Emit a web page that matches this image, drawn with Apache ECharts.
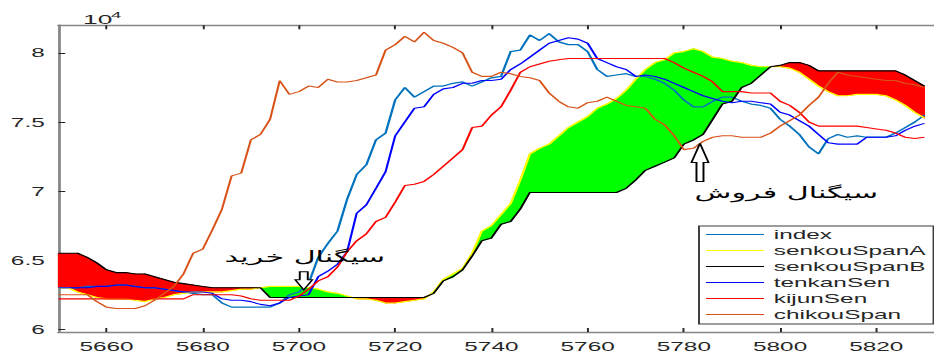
<!DOCTYPE html>
<html lang="fa">
<head>
<meta charset="utf-8">
<title>Ichimoku</title>
<script src="https://cdn.jsdelivr.net/npm/echarts@6.0.0/dist/echarts.min.js"></script>
<style>
  html, body { margin: 0; padding: 0; background: #fff; overflow: hidden; }
  #chart { height: 353px; transform-origin: 0 0; }
</style>
</head>
<body>
<div id="chart"></div>
<script>
// Sessions on the x axis
const periods = [
  5650, 5652, 5654, 5656, 5658, 5660, 5662, 5664, 5666, 5668,
  5670, 5672, 5674, 5676, 5678, 5680, 5682, 5684, 5686, 5688,
  5690, 5692, 5694, 5696, 5698, 5700, 5702, 5704, 5706, 5708,
  5710, 5712, 5714, 5716, 5718, 5720, 5722, 5724, 5726, 5728,
  5730, 5732, 5734, 5736, 5738, 5740, 5742, 5744, 5746, 5748,
  5750, 5752, 5754, 5756, 5758, 5760, 5762, 5764, 5766, 5768,
  5770, 5772, 5774, 5776, 5778, 5780, 5782, 5784, 5786, 5788,
  5790, 5792, 5794, 5796, 5798, 5800, 5802, 5804, 5806, 5808,
  5810, 5812, 5814, 5816, 5818, 5820, 5822, 5824, 5826, 5828,
  5830
];

// All values below are in units of 10^4
const index = [
  6.30, 6.30, 6.30, 6.31, 6.31, 6.31, 6.32, 6.32, 6.31, 6.30,
  6.30, 6.29, 6.28, 6.27, 6.26, 6.25, 6.25, 6.19, 6.16, 6.16,
  6.16, 6.16, 6.16, 6.19, 6.25, 6.27, 6.33, 6.52, 6.62, 6.71,
  6.94, 7.12, 7.19, 7.37, 7.42, 7.66, 7.75, 7.68, 7.72, 7.76,
  7.76, 7.78, 7.79, 7.76, 7.79, 7.82, 7.83, 8.01, 8.02, 8.13,
  8.09, 8.14, 8.08, 8.06, 8.06, 8.01, 7.88, 7.83, 7.84, 7.85,
  7.83, 7.83, 7.81, 7.78, 7.73, 7.66, 7.61, 7.61, 7.65, 7.68,
  7.68, 7.65, 7.63, 7.62, 7.60, 7.52, 7.47, 7.41, 7.32, 7.27,
  7.38, 7.41, 7.39, 7.40, 7.39, 7.39, 7.39, 7.42, 7.46, 7.50,
  7.55
];

const senkouSpanA = [
  6.30, 6.30, 6.27, 6.25, 6.23, 6.22, 6.22, 6.22, 6.21, 6.20,
  6.22, 6.23, 6.25, 6.26, 6.27, 6.27, 6.27, 6.27, 6.28, 6.29,
  6.29, 6.30, 6.31, 6.31, 6.31, 6.31, 6.30, 6.29, 6.27, 6.26,
  6.24, 6.22, 6.22, 6.21, 6.19, 6.19, 6.20, 6.21, 6.22, 6.27,
  6.36, 6.40, 6.44, 6.55, 6.71, 6.75, 6.83, 6.91, 7.08, 7.27,
  7.31, 7.34, 7.40, 7.46, 7.50, 7.54, 7.60, 7.63, 7.67, 7.73,
  7.81, 7.88, 7.93, 7.95, 8.00, 8.01, 8.03, 8.01, 7.97, 7.96,
  7.94, 7.93, 7.91, 7.90, 7.90, 7.90, 7.89, 7.86, 7.81, 7.76,
  7.72, 7.69, 7.69, 7.70, 7.70, 7.70, 7.69, 7.66, 7.62, 7.57,
  7.53
];

const senkouSpanB = [
  6.55, 6.55, 6.55, 6.52, 6.48, 6.43, 6.41, 6.41, 6.40, 6.40,
  6.38, 6.36, 6.34, 6.33, 6.32, 6.31, 6.30, 6.30, 6.30, 6.30,
  6.30, 6.30, 6.23, 6.23, 6.23, 6.23, 6.23, 6.23, 6.23, 6.23,
  6.23, 6.23, 6.23, 6.23, 6.23, 6.23, 6.23, 6.23, 6.23, 6.26,
  6.35, 6.38, 6.43, 6.53, 6.64, 6.66, 6.76, 6.78, 6.87, 6.99,
  6.99, 6.99, 6.99, 6.99, 6.99, 6.99, 6.99, 6.99, 6.99, 7.02,
  7.08, 7.15, 7.18, 7.21, 7.24, 7.34, 7.37, 7.41, 7.52, 7.63,
  7.65, 7.75, 7.78, 7.84, 7.90, 7.91, 7.93, 7.93, 7.91, 7.87,
  7.87, 7.87, 7.87, 7.87, 7.87, 7.87, 7.87, 7.87, 7.84, 7.80,
  7.76
];

const tenkanSen = [
  6.30, 6.30, 6.30, 6.30, 6.31, 6.31, 6.32, 6.32, 6.31, 6.30,
  6.30, 6.29, 6.28, 6.27, 6.27, 6.27, 6.26, 6.22, 6.21, 6.21,
  6.20, 6.18, 6.17, 6.19, 6.23, 6.24, 6.25, 6.38, 6.42, 6.47,
  6.56, 6.84, 6.90, 7.02, 7.14, 7.40, 7.50, 7.60, 7.61, 7.70,
  7.74, 7.75, 7.78, 7.78, 7.80, 7.80, 7.81, 7.88, 7.92, 7.97,
  8.02, 8.07, 8.09, 8.11, 8.10, 8.07, 7.96, 7.93, 7.90, 7.88,
  7.83, 7.84, 7.83, 7.81, 7.78, 7.75, 7.72, 7.69, 7.67, 7.65,
  7.64, 7.65, 7.65, 7.64, 7.63, 7.57, 7.55, 7.51, 7.47, 7.41,
  7.35, 7.34, 7.34, 7.34, 7.39, 7.39, 7.39, 7.40, 7.44, 7.47,
  7.49
];

const kijunSen = [
  6.22, 6.22, 6.22, 6.22, 6.22, 6.22, 6.22, 6.22, 6.22, 6.22,
  6.22, 6.22, 6.22, 6.22, 6.25, 6.25, 6.25, 6.25, 6.25, 6.24,
  6.22, 6.21, 6.21, 6.21, 6.21, 6.24, 6.29, 6.35, 6.38, 6.45,
  6.56, 6.64, 6.69, 6.78, 6.81, 6.92, 7.04, 7.05, 7.07, 7.12,
  7.18, 7.24, 7.30, 7.46, 7.47, 7.55, 7.61, 7.73, 7.86, 7.90,
  7.92, 7.94, 7.95, 7.96, 7.96, 7.96, 7.96, 7.96, 7.96, 7.96,
  7.96, 7.96, 7.96, 7.96, 7.93, 7.89, 7.86, 7.83, 7.79, 7.72,
  7.72, 7.72, 7.71, 7.71, 7.71, 7.65, 7.62, 7.57, 7.50, 7.47,
  7.47, 7.47, 7.47, 7.47, 7.46, 7.45, 7.44, 7.42, 7.39, 7.38,
  7.39
];

const chikouSpan = [
  6.25, 6.25, 6.25, 6.25, 6.20, 6.16, 6.15, 6.15, 6.15, 6.17,
  6.21, 6.26, 6.31, 6.40, 6.55, 6.58, 6.72, 6.87, 7.11, 7.13,
  7.37, 7.41, 7.52, 7.80, 7.70, 7.72, 7.76, 7.75, 7.81, 7.79,
  7.79, 7.80, 7.82, 7.84, 8.02, 8.06, 8.12, 8.08, 8.15, 8.09,
  8.07, 8.04, 8.00, 7.86, 7.83, 7.83, 7.86, 7.85, 7.83, 7.82,
  7.80, 7.71, 7.65, 7.61, 7.60, 7.64, 7.65, 7.68, 7.65, 7.62,
  7.61, 7.60, 7.52, 7.48, 7.40, 7.30, 7.31, 7.36, 7.39, 7.40,
  7.40, 7.39, 7.39, 7.39, 7.42, 7.47, 7.51, 7.55, 7.62, 7.68,
  7.78, 7.86, 7.84, 7.83, 7.82, 7.81, 7.80, 7.80, 7.78, 7.77,
  7.75
];

const xTicks = [5660, 5680, 5700, 5720, 5740, 5760, 5780, 5800, 5820];
const yTicks = [6, 6.5, 7, 7.5, 8];

// Signal annotations, anchored in data coordinates [period, value]
const buySignal = { text: 'سیگنال خرید', label: [5701.2, 6.527], arrowTip: [5701.0, 6.285] };
const sellSignal = { text: 'سیگنال فروش', label: [5801.3, 6.985], arrowTip: [5783.35, 7.345] };

// ---------------------------------------------------------------------------
// The figure is laid out at a narrow width and widened horizontally as a whole.
const STRETCH = 1.95;
const FIG_W = 935;
const dom = document.getElementById('chart');
dom.style.width = (FIG_W / STRETCH) + 'px';
dom.style.transform = 'scaleX(' + STRETCH + ')';
const sx = p => p / STRETCH;   // horizontal page pixels -> drawing units

const BULL = '#00ff00';
const BEAR = '#ff0000';
const TEXT = '#262626';
const AXIS = '#858585';
const FONT = 'Liberation Sans, Arial, sans-serif';

const chart = echarts.init(dom, null, { renderer: 'svg' });

const pairs = arr => periods.map((t, i) => [t, arr[i]]);
const lineSeries = (name, arr, color, width) => ({
  name, type: 'line', data: pairs(arr), symbol: 'none', silent: true,
  lineStyle: { color, width }, itemStyle: { color }, z: 3, clip: true
});

// cloud segments between consecutive sessions
const cloudSegments = [];
for (let i = 0; i < periods.length - 1; i++) {
  cloudSegments.push([periods[i], senkouSpanA[i], senkouSpanB[i],
                      periods[i + 1], senkouSpanA[i + 1], senkouSpanB[i + 1]]);
}

function renderCloud(params, api) {
  const t0 = api.value(0), a0 = api.value(1), b0 = api.value(2);
  const t1 = api.value(3), a1 = api.value(4), b1 = api.value(5);
  const d0 = a0 - b0, d1 = a1 - b1;
  const P = (t, v) => api.coord([t, v]);
  const poly = (pts, up) => ({
    type: 'polygon', shape: { points: pts },
    style: { fill: up ? BULL : BEAR, stroke: up ? BULL : BEAR, lineWidth: 0.6 }
  });
  const children = [];
  if (Math.abs(d0) < 1e-9 && Math.abs(d1) < 1e-9) return { type: 'group', children };
  if (d0 * d1 < 0) {
    const f = d0 / (d0 - d1);
    const tc = t0 + f * (t1 - t0), vc = a0 + f * (a1 - a0);
    children.push(poly([P(t0, a0), P(tc, vc), P(t0, b0)], d0 > 0));
    children.push(poly([P(tc, vc), P(t1, a1), P(t1, b1)], d1 > 0));
  } else {
    children.push(poly([P(t0, a0), P(t1, a1), P(t1, b1), P(t0, b0)], d0 + d1 > 0));
  }
  return { type: 'group', children };
}

const axisCommon = {
  type: 'value', min: 5650, max: 5832,
  axisLine: { show: true, lineStyle: { color: AXIS, width: 1.4 } },
  splitLine: { show: false }
};

chart.setOption({
  animation: false,
  backgroundColor: '#ffffff',
  grid: { left: sx(58.4), top: 25.3, width: sx(883.8), height: 307.5, containLabel: false },
  xAxis: [
    Object.assign({}, axisCommon, {
      position: 'bottom',
      axisTick: { show: true, inside: true, length: 4, customValues: xTicks, lineStyle: { color: TEXT, width: 1 } },
      axisLabel: { show: true, customValues: xTicks, margin: 8, fontSize: 12.5, fontFamily: FONT, color: TEXT,
                   formatter: v => String(v) }
    }),
    Object.assign({}, axisCommon, {
      position: 'top',
      axisTick: { show: true, inside: true, length: 4, customValues: xTicks, lineStyle: { color: TEXT, width: 1 } },
      axisLabel: { show: false }
    })
  ],
  yAxis: {
    type: 'value', min: 5.98, max: 8.2,
    axisLine: { show: true, lineStyle: { color: AXIS, width: 1.4 } },
    axisTick: { show: true, inside: true, length: 3.5, customValues: yTicks, lineStyle: { color: TEXT, width: 1 } },
    axisLabel: { show: true, customValues: yTicks, margin: 7, fontSize: 12.5, fontFamily: FONT, color: TEXT,
                 formatter: v => String(v) },
    splitLine: { show: false }
  },
  legend: {
    data: ['index', 'senkouSpanA', 'senkouSpanB', 'tenkanSen', 'kijunSen', 'chikouSpan'],
    orient: 'vertical', left: sx(699), top: 226,
    icon: 'rect', itemWidth: sx(58), itemHeight: 1.2, itemGap: 3,
    padding: [2, sx(8), 3, sx(7)],
    borderColor: '#3c3c3c', borderWidth: 1, backgroundColor: '#ffffff',
    selectedMode: false,
    textStyle: { fontFamily: FONT, fontSize: 12.5, color: TEXT, lineHeight: 12 }
  },
  series: [
    {
      type: 'custom', name: 'cloud', silent: true, z: 1, clip: true,
      renderItem: renderCloud,
      encode: { x: [0, 3], y: [1, 2, 4, 5] },
      data: cloudSegments
    },
    lineSeries('index', index, '#0072bd', 1.2),
    lineSeries('senkouSpanA', senkouSpanA, '#ffff00', 1.2),
    lineSeries('senkouSpanB', senkouSpanB, '#000000', 1.1),
    lineSeries('tenkanSen', tenkanSen, '#0000ff', 1.1),
    lineSeries('kijunSen', kijunSen, '#ff0000', 1.1),
    lineSeries('chikouSpan', chikouSpan, '#d95319', 1.1)
  ]
});

// ---- annotations: exponent label, signal texts and hollow arrows ----
const toPx = p => chart.convertToPixel({ xAxisIndex: 0, yAxisIndex: 0 }, p);

function hollowArrow(tip, dir, headH, headHalf, shaftLen, shaftHalf) {
  const [x, y] = toPx(tip);
  const s = dir;  // +1 points down (body above tip), -1 points up (body below tip)
  const yb = y - s * headH, ys = yb - s * shaftLen;
  return {
    type: 'polygon', z: 20,
    shape: { points: [[x, y], [x - headHalf, yb], [x - shaftHalf, yb], [x - shaftHalf, ys],
                      [x + shaftHalf, ys], [x + shaftHalf, yb], [x + headHalf, yb]] },
    style: { fill: '#ffffff', stroke: '#000000', lineWidth: 1 }
  };
}

function signalText(sig) {
  const [x, y] = toPx(sig.label);
  return {
    type: 'text', x, y, z: 20,
    style: { text: sig.text, fontFamily: 'DejaVu Sans, sans-serif', fontSize: 15.5, fill: '#000000',
             align: 'center', verticalAlign: 'middle' }
  };
}

chart.setOption({
  graphic: [
    { type: 'text', x: sx(83), y: 12.5, z: 20,
      style: { text: '10', fontFamily: FONT, fontSize: 13.5, fill: TEXT, align: 'left', verticalAlign: 'top' } },
    { type: 'text', x: sx(111), y: 9.5, z: 20,
      style: { text: '4', fontFamily: FONT, fontSize: 9.5, fill: TEXT, align: 'left', verticalAlign: 'top' } },
    signalText(buySignal),
    signalText(sellSignal),
    hollowArrow(buySignal.arrowTip, 1, 10, sx(8.5), 8, sx(4)),
    hollowArrow(sellSignal.arrowTip, -1, 19, sx(8.5), 19, sx(3.5))
  ]
});
</script>
</body>
</html>
